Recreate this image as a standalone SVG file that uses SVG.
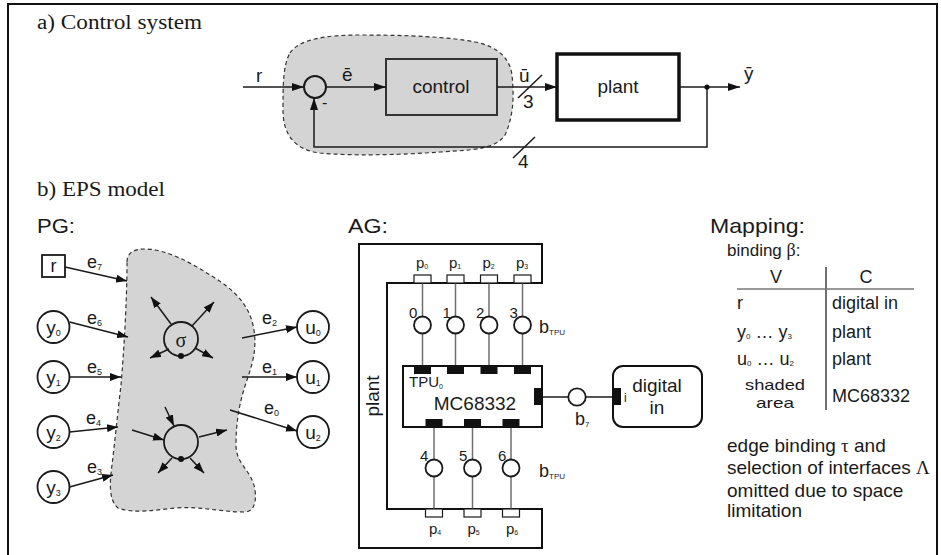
<svg xmlns="http://www.w3.org/2000/svg" width="941" height="555" viewBox="0 0 941 555">
<defs>
<style>
.s{font-family:"Liberation Sans",Arial,sans-serif;fill:#1a1a1a}
.t{font-family:"Liberation Serif","Times New Roman",serif;fill:#1a1a1a}
.ln{stroke:#1a1a1a;stroke-width:1.5;fill:none}
.gl{stroke:#6e6e6e;stroke-width:1.5;fill:none}
.blob{fill:#d4d4d4;stroke:#333;stroke-width:1.2;stroke-dasharray:4 3}
.nd{fill:#fff;stroke:#1a1a1a;stroke-width:1.8}
.pad{fill:#111;stroke:none}
.pin{fill:#fff;stroke:#1a1a1a;stroke-width:1.2}
</style>
<marker id="ah" viewBox="0 0 12 8" refX="12" refY="4" markerWidth="12" markerHeight="8" orient="auto" markerUnits="userSpaceOnUse"><path d="M0,0 L12,4 L0,8 Z" fill="#111"/></marker>
<marker id="ahs" viewBox="0 0 11 8" refX="11" refY="4" markerWidth="11" markerHeight="8" orient="auto" markerUnits="userSpaceOnUse"><path d="M0,0 L11,4 L0,8 Z" fill="#111"/></marker>
</defs>
<rect x="0" y="0" width="941" height="555" fill="#fff"/>
<rect x="8" y="4" width="929" height="570" fill="none" stroke="#111" stroke-width="2"/>

<text class="t" x="37" y="29" font-size="20" textLength="165" lengthAdjust="spacingAndGlyphs">a) Control system</text>
<text class="t" x="37" y="196" font-size="20" textLength="128" lengthAdjust="spacingAndGlyphs">b) EPS model</text>

<!-- a) control system -->
<g id="ctrl-area">
<path class="blob" d="M290,53 C300,38 330,35 360,35 C410,35 450,37 475,42 C500,47 510,60 512,75 C514,95 514,115 505,135 C495,150 470,150 440,152 C400,155 350,156 320,153 C295,150 283,135 283,110 C283,85 283,65 290,53 Z"/>
</g>
<g id="sum">
<circle cx="315" cy="87" r="11" fill="none" stroke="#1a1a1a" stroke-width="2"/>
<text class="s" x="322" y="108" font-size="16">-</text>
</g>
<g id="control">
<rect x="386" y="59" width="111" height="56" fill="#d4d4d4" stroke="#333" stroke-width="2"/>
<text class="s" x="441" y="93" font-size="19" text-anchor="middle">control</text>
</g>
<g id="plant">
<rect x="557" y="54" width="122" height="66" fill="#fff" stroke="#111" stroke-width="3.5"/>
<text class="s" x="618" y="93" font-size="19" text-anchor="middle">plant</text>
</g>
<g id="top-connectors">
<line class="ln" x1="243" y1="87" x2="304" y2="87" marker-end="url(#ah)"/>
<line class="ln" x1="326" y1="87" x2="386" y2="87" marker-end="url(#ah)"/>
<line class="ln" x1="497" y1="87" x2="557" y2="87" marker-end="url(#ah)"/>
<line class="ln" x1="679" y1="87" x2="740" y2="87" marker-end="url(#ah)"/>
<polyline class="ln" points="707,87 707,147 314,147 314,98" marker-end="url(#ah)"/>
<circle cx="707" cy="87" r="2.6" fill="#111"/>
<line class="ln" x1="518" y1="98" x2="542" y2="75"/>
<line class="ln" x1="513" y1="158" x2="535" y2="137"/>
<text class="s" x="256" y="82" font-size="19">r</text>
<text class="s" x="342" y="81" font-size="19">ē</text>
<text class="s" x="519" y="82" font-size="19">ū</text>
<text class="s" x="523" y="108" font-size="19">3</text>
<text class="s" x="518" y="168" font-size="19">4</text>
<text class="s" x="744" y="80" font-size="19">ȳ</text>
</g>

<!-- PG -->
<text class="s" x="37" y="233" font-size="20" textLength="38" lengthAdjust="spacingAndGlyphs">PG:</text>
<g id="pg-area">
<path class="blob" d="M127,262 C127,252 135,249 145,249 C165,249 190,262 210,275 C235,290 250,305 254,330 C257,350 252,365 247,380 C240,400 236,420 236,445 C236,465 252,470 255,490 C257,505 252,512 245,512 C220,512 200,506 175,508 C155,510 135,514 118,508 C108,500 110,480 112,465 C115,440 118,410 121,385 C124,350 127,300 127,262 Z"/>
</g>
<g id="sigma">
<circle cx="181" cy="339" r="17" fill="none" stroke="#1a1a1a" stroke-width="1.8"/>
<circle cx="181" cy="356" r="3" fill="#111"/>
<text class="t" x="181" y="347" font-size="20" text-anchor="middle">σ</text>
</g>
<g id="proc">
<circle cx="181" cy="442" r="17" fill="none" stroke="#1a1a1a" stroke-width="1.8"/>
<circle cx="181" cy="459" r="3" fill="#111"/>
</g>
<g id="r"><rect x="42" y="255" width="23" height="22" fill="#fff" stroke="#1a1a1a" stroke-width="1.8"/><text class="s" x="53.5" y="272" font-size="18" text-anchor="middle">r</text></g>
<g id="y0"><circle class="nd" cx="53.5" cy="327" r="16"/><text class="s" x="53.5" y="334" font-size="19" text-anchor="middle">y<tspan font-size="9" dy="2">0</tspan></text></g>
<g id="y1"><circle class="nd" cx="53.5" cy="377" r="16"/><text class="s" x="53.5" y="384" font-size="19" text-anchor="middle">y<tspan font-size="9" dy="2">1</tspan></text></g>
<g id="y2"><circle class="nd" cx="53.5" cy="432" r="16"/><text class="s" x="53.5" y="439" font-size="19" text-anchor="middle">y<tspan font-size="9" dy="2">2</tspan></text></g>
<g id="y3"><circle class="nd" cx="53.5" cy="487" r="16"/><text class="s" x="53.5" y="494" font-size="19" text-anchor="middle">y<tspan font-size="9" dy="2">3</tspan></text></g>
<g id="u0"><circle class="nd" cx="313" cy="327" r="16"/><text class="s" x="313" y="334" font-size="19" text-anchor="middle">u<tspan font-size="9" dy="2">0</tspan></text></g>
<g id="u1"><circle class="nd" cx="313" cy="377" r="16"/><text class="s" x="313" y="384" font-size="19" text-anchor="middle">u<tspan font-size="9" dy="2">1</tspan></text></g>
<g id="u2"><circle class="nd" cx="313" cy="432" r="16"/><text class="s" x="313" y="439" font-size="19" text-anchor="middle">u<tspan font-size="9" dy="2">2</tspan></text></g>
<g id="pg-connectors">
<line class="ln" x1="65" y1="267" x2="127" y2="281" marker-end="url(#ahs)"/>
<line class="ln" x1="69.5" y1="322" x2="128" y2="337" marker-end="url(#ahs)"/>
<line class="ln" x1="69.5" y1="377" x2="121" y2="377" marker-end="url(#ahs)"/>
<line class="ln" x1="69.5" y1="432" x2="118" y2="427" marker-end="url(#ahs)"/>
<line class="ln" x1="69.5" y1="487" x2="113" y2="475" marker-end="url(#ahs)"/>
<line class="ln" x1="242" y1="338" x2="297" y2="327" marker-end="url(#ahs)"/>
<line class="ln" x1="242" y1="377" x2="297" y2="377" marker-end="url(#ahs)"/>
<line class="ln" x1="230" y1="410" x2="297" y2="431" marker-end="url(#ahs)"/>
<line class="ln" x1="171" y1="324" x2="151" y2="297" marker-end="url(#ahs)"/>
<line class="ln" x1="192" y1="326" x2="214" y2="302" marker-end="url(#ahs)"/>
<line class="ln" x1="169" y1="349" x2="150" y2="358" marker-end="url(#ahs)"/>
<line class="ln" x1="195" y1="348" x2="213" y2="358" marker-end="url(#ahs)"/>
<line class="ln" x1="165" y1="407" x2="174" y2="426" marker-end="url(#ahs)"/>
<line class="ln" x1="132" y1="430" x2="164" y2="440" marker-end="url(#ahs)"/>
<line class="ln" x1="199" y1="437" x2="227" y2="430" marker-end="url(#ahs)"/>
<line class="ln" x1="172" y1="458" x2="158" y2="473" marker-end="url(#ahs)"/>
<line class="ln" x1="190" y1="458" x2="204" y2="473" marker-end="url(#ahs)"/>
<text class="s" x="87" y="268" font-size="18">e<tspan font-size="9" dy="2">7</tspan></text>
<text class="s" x="87" y="324" font-size="18">e<tspan font-size="9" dy="2">6</tspan></text>
<text class="s" x="87" y="373" font-size="18">e<tspan font-size="9" dy="2">5</tspan></text>
<text class="s" x="86" y="424" font-size="18">e<tspan font-size="9" dy="2">4</tspan></text>
<text class="s" x="87" y="473" font-size="18">e<tspan font-size="9" dy="2">3</tspan></text>
<text class="s" x="262" y="324" font-size="18">e<tspan font-size="9" dy="2">2</tspan></text>
<text class="s" x="262" y="373" font-size="18">e<tspan font-size="9" dy="2">1</tspan></text>
<text class="s" x="264" y="414" font-size="18">e<tspan font-size="9" dy="2">0</tspan></text>
</g>

<!-- AG -->
<text class="s" x="348" y="233" font-size="20" textLength="40" lengthAdjust="spacingAndGlyphs">AG:</text>
<g id="ag-plant">
<path d="M359,244 H542 V283 H387 V509 H542 V548 H359 Z" fill="#fff" stroke="#111" stroke-width="2"/>
<text class="s" font-size="19" text-anchor="middle" transform="translate(379,396) rotate(-90)">plant</text>
</g>
<g id="ag-connectors">
<line class="gl" x1="422.5" y1="283" x2="422.5" y2="366"/>
<line class="gl" x1="455.5" y1="283" x2="455.5" y2="366"/>
<line class="gl" x1="489" y1="283" x2="489" y2="366"/>
<line class="gl" x1="522.5" y1="283" x2="522.5" y2="366"/>
<line class="gl" x1="434" y1="427" x2="434" y2="509"/>
<line class="gl" x1="472.5" y1="427" x2="472.5" y2="509"/>
<line class="gl" x1="511" y1="427" x2="511" y2="509"/>
<line class="ln" x1="542" y1="397" x2="613" y2="397"/>
</g>
<g id="pins-top">
<rect class="pin" x="414" y="275" width="17" height="8"/>
<rect class="pin" x="447" y="275" width="17" height="8"/>
<rect class="pin" x="480.5" y="275" width="17" height="8"/>
<rect class="pin" x="514" y="275" width="17" height="8"/>
<text class="s" x="416" y="268" font-size="15">p<tspan font-size="7" dy="1">0</tspan></text>
<text class="s" x="449" y="268" font-size="15">p<tspan font-size="7" dy="1">1</tspan></text>
<text class="s" x="482.5" y="268" font-size="15">p<tspan font-size="7" dy="1">2</tspan></text>
<text class="s" x="516" y="268" font-size="15">p<tspan font-size="7" dy="1">3</tspan></text>
</g>
<g id="pins-bottom">
<rect class="pin" x="425.5" y="509" width="17" height="8"/>
<rect class="pin" x="464" y="509" width="17" height="8"/>
<rect class="pin" x="502.5" y="509" width="17" height="8"/>
<text class="s" x="429" y="534" font-size="15">p<tspan font-size="7" dy="1">4</tspan></text>
<text class="s" x="467.5" y="534" font-size="15">p<tspan font-size="7" dy="1">5</tspan></text>
<text class="s" x="506" y="534" font-size="15">p<tspan font-size="7" dy="1">6</tspan></text>
</g>
<g id="btpu-top">
<circle class="nd" cx="422.5" cy="325" r="8.5"/>
<circle class="nd" cx="455.5" cy="325" r="8.5"/>
<circle class="nd" cx="489" cy="325" r="8.5"/>
<circle class="nd" cx="522.5" cy="325" r="8.5"/>
<text class="s" x="409" y="318" font-size="15">0</text>
<text class="s" x="442.5" y="318" font-size="15">1</text>
<text class="s" x="476" y="318" font-size="15">2</text>
<text class="s" x="509.5" y="318" font-size="15">3</text>
<text class="s" x="539" y="333" font-size="18">b<tspan font-size="8" dy="2">TPU</tspan></text>
</g>
<g id="btpu-bottom">
<circle class="nd" cx="434" cy="468" r="8.5"/>
<circle class="nd" cx="472.5" cy="468" r="8.5"/>
<circle class="nd" cx="511" cy="468" r="8.5"/>
<text class="s" x="420" y="461" font-size="15">4</text>
<text class="s" x="459" y="461" font-size="15">5</text>
<text class="s" x="498" y="461" font-size="15">6</text>
<text class="s" x="539" y="477" font-size="18">b<tspan font-size="8" dy="2">TPU</tspan></text>
</g>
<g id="mc68332">
<rect x="403" y="366" width="139" height="61" fill="#fff" stroke="#111" stroke-width="2"/>
<rect class="pad" x="414" y="366" width="17" height="8"/>
<rect class="pad" x="447" y="366" width="17" height="8"/>
<rect class="pad" x="480.5" y="366" width="17" height="8"/>
<rect class="pad" x="514" y="366" width="17" height="8"/>
<rect class="pad" x="425.5" y="419" width="17" height="8"/>
<rect class="pad" x="464" y="419" width="17" height="8"/>
<rect class="pad" x="502.5" y="419" width="17" height="8"/>
<rect class="pad" x="534" y="388" width="8" height="17"/>
<text class="s" x="409" y="387" font-size="15">TPU<tspan font-size="7" dy="2">0</tspan></text>
<text class="s" x="475" y="410" font-size="19" text-anchor="middle">MC68332</text>
</g>
<g id="b7">
<circle class="nd" cx="577" cy="397" r="8.7"/>
<text class="s" x="575" y="425" font-size="18">b<tspan font-size="8" dy="2">7</tspan></text>
</g>
<g id="digital-in">
<rect x="613" y="366" width="89" height="61" rx="10" fill="#fff" stroke="#111" stroke-width="2"/>
<rect class="pad" x="613" y="388" width="8" height="17"/>
<text class="s" x="624" y="402" font-size="12">i</text>
<text class="s" x="657" y="392" font-size="19" text-anchor="middle">digital</text>
<text class="s" x="657" y="414" font-size="19" text-anchor="middle">in</text>
</g>

<!-- Mapping -->
<g id="mapping">
<text class="s" x="710" y="233" font-size="21" textLength="95" lengthAdjust="spacingAndGlyphs">Mapping:</text>
<text class="s" x="727" y="256" font-size="17">binding <tspan class="t" font-size="18">β</tspan>:</text>
<line x1="826" y1="267" x2="826" y2="410" stroke="#111" stroke-width="1.2"/>
<line x1="737" y1="289" x2="914" y2="289" stroke="#777" stroke-width="1.5"/>
<text class="s" x="776" y="283" font-size="18" text-anchor="middle">V</text>
<text class="s" x="866" y="283" font-size="18" text-anchor="middle">C</text>
<text class="s" x="737" y="309" font-size="18">r</text>
<text class="s" x="832" y="309" font-size="18">digital in</text>
<text class="s" x="737" y="338" font-size="18">y<tspan font-size="8" dy="1">0</tspan><tspan dy="-1"> … y</tspan><tspan font-size="8" dy="1">3</tspan></text>
<text class="s" x="832" y="338" font-size="18">plant</text>
<text class="s" x="737" y="365" font-size="18">u<tspan font-size="8" dy="1">0</tspan><tspan dy="-1"> … u</tspan><tspan font-size="8" dy="1">2</tspan></text>
<text class="s" x="832" y="365" font-size="18">plant</text>
<text class="s" x="775" y="390" font-size="15" text-anchor="middle" textLength="60" lengthAdjust="spacingAndGlyphs">shaded</text>
<text class="s" x="775" y="408" font-size="15" text-anchor="middle" textLength="38" lengthAdjust="spacingAndGlyphs">area</text>
<text class="s" x="832" y="402" font-size="18">MC68332</text>
<text class="s" x="727" y="452" font-size="19">edge binding <tspan class="t">τ</tspan> and</text>
<text class="s" x="727" y="474" font-size="19">selection of interfaces <tspan class="t">Λ</tspan></text>
<text class="s" x="727" y="497" font-size="19">omitted due to space</text>
<text class="s" x="727" y="517" font-size="19">limitation</text>
</g>
</svg>
